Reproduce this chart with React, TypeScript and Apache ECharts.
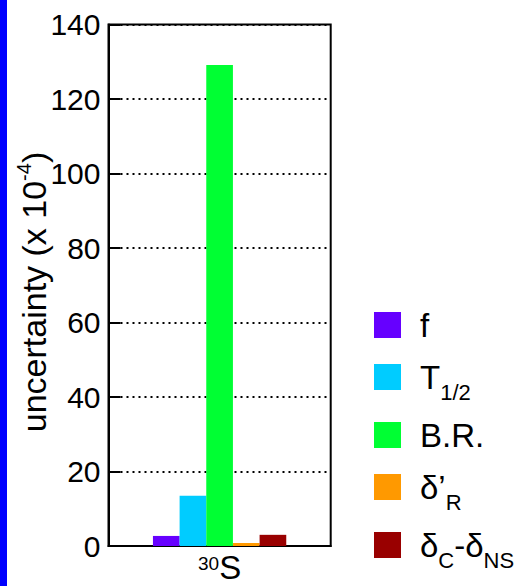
import React, { useEffect, useRef } from "react";
import * as echarts from "echarts";

const categories = ["30S"];
const seriesNames = ["f", "T1/2", "B.R.", "δ'R", "δC-δNS"];
const seriesValues = [2.7, 13.5, 129.1, 0.8, 3.0];
const seriesColors = ["#6600ff", "#00ccff", "#00ff33", "#ff9900", "#990000"];
const yTicks = { min: 0, max: 140, interval: 20 };

const legendRich: Record<string, string> = {
  "f": "{m|f}",
  "T1/2": "{m|T}{s|1/2}",
  "B.R.": "{m|B.R.}",
  "δ'R": "{m|δ’}{s|R}",
  "δC-δNS": "{m|δ}{s|C}{m|-δ}{s|NS}",
};

const FONT = "Liberation Sans, Arial, Helvetica, sans-serif";

export default function App() {
  const ref = useRef<HTMLDivElement>(null);
  useEffect(() => {
    if (!ref.current) return;
    const chart = echarts.init(ref.current, undefined, { renderer: "svg" });
    chart.setOption({
      animation: false,
      backgroundColor: "#ffffff",
      textStyle: { fontFamily: FONT },
      grid: {
        left: 108.5,
        right: 185.3,
        top: 24.5,
        bottom: 40,
        show: true,
        borderColor: "#000",
        borderWidth: 2,
        backgroundColor: "transparent",
      },
      xAxis: {
        type: "category",
        data: categories,
        axisLine: { lineStyle: { color: "#000", width: 2 } },
        axisTick: { show: false },
        axisLabel: {
          margin: 8,
          formatter: () => "{sup|30}{big|S}",
          rich: {
            sup: { fontSize: 19, color: "#000", fontFamily: FONT, verticalAlign: "top", lineHeight: 19 },
            big: { fontSize: 33, color: "#000", fontFamily: FONT, lineHeight: 30, verticalAlign: "bottom" },
          },
        },
      },
      yAxis: {
        type: "value",
        min: yTicks.min,
        max: yTicks.max,
        interval: yTicks.interval,
        axisLine: { show: true, lineStyle: { color: "#000", width: 2 } },
        axisTick: { show: true, inside: true, length: 12, lineStyle: { color: "#000", width: 2 } },
        axisLabel: { fontSize: 30, color: "#000", margin: 8, fontFamily: FONT },
        splitLine: { show: true, lineStyle: { color: "#000", width: 2, type: [2, 4] } },
      },
      legend: {
        orient: "vertical",
        left: 374,
        top: 305,
        padding: 0,
        itemWidth: 27,
        itemHeight: 26,
        itemGap: 12,
        icon: "rect",
        data: seriesNames,
        formatter: (name: string) => legendRich[name] || name,
        textStyle: {
          padding: [0, 0, 0, 14],
          rich: {
            m: { fontSize: 33, color: "#000", fontFamily: FONT, lineHeight: 40, height: 40, verticalAlign: "middle" },
            s: { fontSize: 22, color: "#000", fontFamily: FONT, lineHeight: 10, height: 10, verticalAlign: "top", padding: [30, 0, 0, 0] },
          },
        },
      },
      graphic: [
        { type: "rect", left: 0, top: 0, shape: { x: 0, y: 0, width: 7, height: 586 }, style: { fill: "#0000ff" } },
        {
          type: "text",
          x: 34,
          y: 292,
          rotation: Math.PI / 2,
          style: {
            text: "{m|uncertainty (x 10}{p|-4}{m|)}",
            align: "center",
            verticalAlign: "middle",
            rich: {
              m: { fontSize: 34, fill: "#000", fontFamily: FONT, lineHeight: 40, verticalAlign: "middle" },
              p: { fontSize: 20, fill: "#000", fontFamily: FONT, lineHeight: 20, verticalAlign: "top" },
            },
          },
        },
      ],
      series: seriesNames.map((name, i) => ({
        name,
        type: "bar",
        data: [seriesValues[i]],
        itemStyle: { color: seriesColors[i] },
        barGap: "0%",
        barCategoryGap: "40%",
      })),
    });
    return () => chart.dispose();
  }, []);
  return <div ref={ref} style={{ width: 516, height: 586, position: "absolute", left: 0, top: 0 }} />;
}
